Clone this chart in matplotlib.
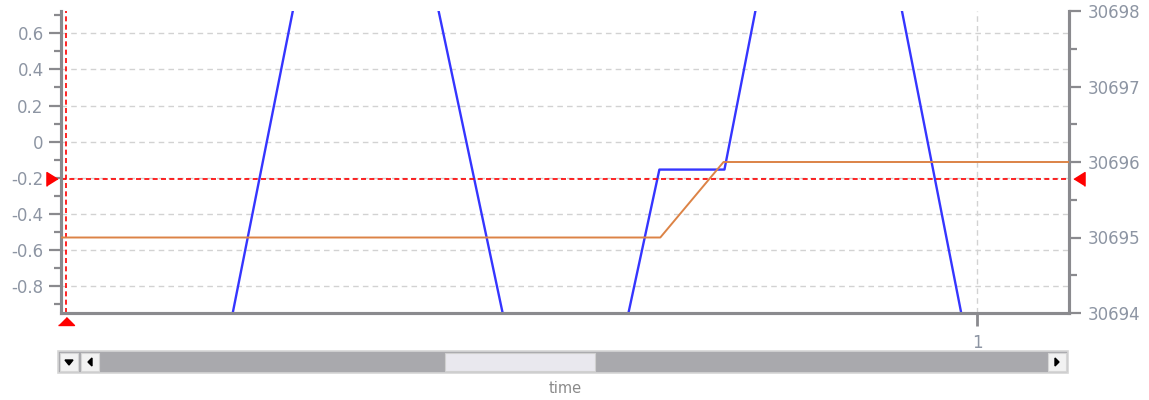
import matplotlib
matplotlib.use('Agg')
import matplotlib.pyplot as plt
from matplotlib.ticker import MultipleLocator, FuncFormatter, FixedLocator
from matplotlib.patches import Rectangle, Polygon
import matplotlib.transforms as mtransforms

# ========== data ==========
# blue signal (left axis), vertices of the wave
blue_t = [0.12, 0.330, 0.550, 0.653, 0.724, 0.8375, 1.05]
blue_v = [-2.67, 2.69, -2.58, -0.155, -0.155, 2.80, -2.70]

# orange signal (right axis)
orange_t = [0.0, 0.654, 0.723, 1.1]
orange_v = [30695, 30695, 30696, 30696]

# cursors
cursor_x = 0.006
cursor_y = -0.208

x_ticks = [1]
left_lim = (-0.95, 0.724)
right_lim = (30694, 30698)
x_lim = (0.0, 1.1)

# ========== style ==========
W, H = 1149, 400
grey = '#8a8a8e'
label_col = '#8d95a3'
plt.rcParams['font.family'] = ['DejaVu Sans']
plt.rcParams['axes.unicode_minus'] = False

fig = plt.figure(figsize=(W / 100, H / 100), dpi=100)

# background layer in pixel coordinates (scrollbar widget)
bg = fig.add_axes([0, 0, 1, 1], zorder=-5)
bg.set_xlim(0, W)
bg.set_ylim(H, 0)
bg.axis('off')

ax = fig.add_axes([61 / W, 1 - 313 / H, (1069 - 61) / W, (313 - 11) / H])
ax.patch.set_alpha(0)
ax2 = ax.twinx()

ax.plot(blue_t, blue_v, color='#3535ff', lw=1.7, zorder=4)
ax2.plot(orange_t, orange_v, color='#dc8346', lw=1.4, zorder=3)

ax.set_xlim(*x_lim)
ax.set_ylim(*left_lim)
ax2.set_ylim(*right_lim)

# ticks
ax.yaxis.set_major_locator(MultipleLocator(0.2))
ax.yaxis.set_minor_locator(MultipleLocator(0.1))
ax.yaxis.set_major_formatter(FuncFormatter(lambda v, p: '0' if abs(v) < 1e-9 else f'{v:.1f}'))
ax2.yaxis.set_major_locator(MultipleLocator(1))
ax2.yaxis.set_minor_locator(MultipleLocator(0.5))
ax2.yaxis.set_major_formatter(FuncFormatter(lambda v, p: f'{v:.0f}'))
ax.xaxis.set_major_locator(FixedLocator(x_ticks))

ax.tick_params(axis='y', which='major', length=8.5, width=1.6, color=grey,
               labelsize=12, labelcolor=label_col, pad=4)
ax.tick_params(axis='y', which='minor', length=5, width=1.6, color=grey)
ax2.tick_params(axis='y', which='major', length=8.5, width=1.6, color=grey,
                labelsize=12, labelcolor=label_col, pad=5)
ax2.tick_params(axis='y', which='minor', length=5.5, width=1.6, color=grey)
ax.tick_params(axis='x', which='major', length=9, width=2, color=grey,
               labelsize=12, labelcolor=label_col, pad=6)

for a in (ax, ax2):
    a.spines['top'].set_visible(False)
    for s in ('left', 'right', 'bottom'):
        a.spines[s].set_color(grey)
        a.spines[s].set_linewidth(2.2)

ax.grid(True, which='major', axis='both', color='#d2d2d2', linestyle=(0, (4, 3)), lw=1)
ax.set_axisbelow(True)

# cursors
ax.axvline(cursor_x, color='red', lw=1.2, linestyle=(0, (3, 2)), zorder=5)
ax.axhline(cursor_y, color='red', lw=1.2, linestyle=(0, (3, 2)), zorder=5)

ytr = ax.get_yaxis_transform()
xtr = ax.get_xaxis_transform()
left_mark = [(-0.4, -0.5), (-0.4, 0.5), (0.4, 0)]
right_mark = [(0.4, -0.5), (0.4, 0.5), (-0.4, 0)]
up_mark = [(-1, -0.5), (1, -0.5), (0, 0.5)]
ax.plot([0], [cursor_y], marker=left_mark, ms=10, color='red', clip_on=False,
        transform=mtransforms.offset_copy(ytr, fig, x=-9, units='dots'), zorder=6)
ax.plot([1], [cursor_y], marker=right_mark, ms=10, color='red', clip_on=False,
        transform=mtransforms.offset_copy(ytr, fig, x=10, units='dots'), zorder=6)
ax.plot([cursor_x], [0], marker=up_mark, ms=11.5, color='red', clip_on=False,
        transform=mtransforms.offset_copy(xtr, fig, y=-8, units='dots'), zorder=6)

ax.set_xlabel('time', fontsize=10.5, color='#8a8a8a', labelpad=21)

# scrollbar under the plot
bg.add_patch(Rectangle((58, 351), 1010, 22, facecolor='#a9a9ad', edgecolor='#d6d6d6', lw=1.2))
for x0 in (60, 81, 1048):
    bg.add_patch(Rectangle((x0, 353), 18, 18, facecolor='#f2f2f2', edgecolor='#d6d6d6', lw=0.8))
bg.add_patch(Rectangle((445, 353), 150, 18, facecolor='#e9e8ee', edgecolor='#d0d0d0', lw=0.8))
bg.add_patch(Polygon([(65, 360), (73, 360), (69, 365)], color='black'))
bg.add_patch(Polygon([(92, 358), (92, 366), (88, 362)], color='black'))
bg.add_patch(Polygon([(1055, 358), (1055, 366), (1059, 362)], color='black'))

fig.savefig('out.png', dpi=100, facecolor='white')
